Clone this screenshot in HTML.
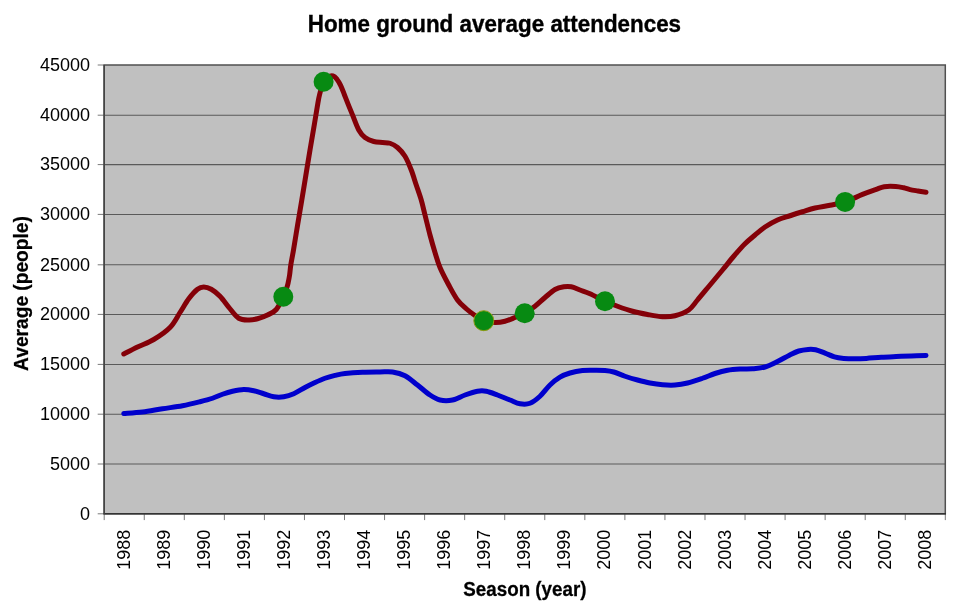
<!DOCTYPE html>
<html><head><meta charset="utf-8"><title>Home ground average attendences</title>
<style>
html,body{margin:0;padding:0;background:#fff;}
body{width:960px;height:609px;overflow:hidden;position:relative;font-family:"Liberation Sans",sans-serif;}
svg{position:absolute;left:0;top:0;display:block}
svg text{font-family:"Liberation Sans",sans-serif;fill:#000}
.tick text{font-size:18px}
</style></head><body>
<svg width="960" height="609" viewBox="0 0 960 609">
<rect x="0" y="0" width="960" height="609" fill="#ffffff"/>
<rect x="104.2" y="65.0" width="841.10" height="448.80" fill="#c0c0c0"/>
<g stroke="#5a5a5a" stroke-width="1.05" fill="none"><line x1="104.20" y1="115.20" x2="945.30" y2="115.20"/><line x1="104.20" y1="164.60" x2="945.30" y2="164.60"/><line x1="104.20" y1="214.40" x2="945.30" y2="214.40"/><line x1="104.20" y1="264.80" x2="945.30" y2="264.80"/><line x1="104.20" y1="314.40" x2="945.30" y2="314.40"/><line x1="104.20" y1="364.40" x2="945.30" y2="364.40"/><line x1="104.20" y1="414.20" x2="945.30" y2="414.20"/><line x1="104.20" y1="464.00" x2="945.30" y2="464.00"/></g>
<g stroke="#7a7a7a" stroke-width="1" fill="none"><line x1="97.70" y1="65.00" x2="104.20" y2="65.00"/><line x1="97.70" y1="115.20" x2="104.20" y2="115.20"/><line x1="97.70" y1="164.60" x2="104.20" y2="164.60"/><line x1="97.70" y1="214.40" x2="104.20" y2="214.40"/><line x1="97.70" y1="264.80" x2="104.20" y2="264.80"/><line x1="97.70" y1="314.40" x2="104.20" y2="314.40"/><line x1="97.70" y1="364.40" x2="104.20" y2="364.40"/><line x1="97.70" y1="414.20" x2="104.20" y2="414.20"/><line x1="97.70" y1="464.00" x2="104.20" y2="464.00"/><line x1="97.70" y1="513.80" x2="104.20" y2="513.80"/><line x1="104.20" y1="513.80" x2="104.20" y2="520.10"/><line x1="144.25" y1="513.80" x2="144.25" y2="520.10"/><line x1="184.30" y1="513.80" x2="184.30" y2="520.10"/><line x1="224.36" y1="513.80" x2="224.36" y2="520.10"/><line x1="264.41" y1="513.80" x2="264.41" y2="520.10"/><line x1="304.46" y1="513.80" x2="304.46" y2="520.10"/><line x1="344.51" y1="513.80" x2="344.51" y2="520.10"/><line x1="384.57" y1="513.80" x2="384.57" y2="520.10"/><line x1="424.62" y1="513.80" x2="424.62" y2="520.10"/><line x1="464.67" y1="513.80" x2="464.67" y2="520.10"/><line x1="504.72" y1="513.80" x2="504.72" y2="520.10"/><line x1="544.78" y1="513.80" x2="544.78" y2="520.10"/><line x1="584.83" y1="513.80" x2="584.83" y2="520.10"/><line x1="624.88" y1="513.80" x2="624.88" y2="520.10"/><line x1="664.93" y1="513.80" x2="664.93" y2="520.10"/><line x1="704.99" y1="513.80" x2="704.99" y2="520.10"/><line x1="745.04" y1="513.80" x2="745.04" y2="520.10"/><line x1="785.09" y1="513.80" x2="785.09" y2="520.10"/><line x1="825.14" y1="513.80" x2="825.14" y2="520.10"/><line x1="865.20" y1="513.80" x2="865.20" y2="520.10"/><line x1="905.25" y1="513.80" x2="905.25" y2="520.10"/><line x1="945.30" y1="513.80" x2="945.30" y2="520.10"/></g>
<rect x="104.2" y="65.0" width="841.10" height="448.80" fill="none" stroke="#505050" stroke-width="1.5"/>
<line x1="103.5" y1="513.8" x2="946.0" y2="513.8" stroke="#333" stroke-width="1.6"/>
<line x1="104.2" y1="65.0" x2="104.2" y2="513.8" stroke="#444" stroke-width="1.6"/>
<path d="M123.80 413.50C126.92 413.25 136.05 412.79 142.50 412.00C148.95 411.21 155.83 409.79 162.50 408.75C169.17 407.71 176.25 406.92 182.50 405.75C188.75 404.58 195.00 403.00 200.00 401.75C205.00 400.50 208.75 399.50 212.50 398.25C216.25 397.00 219.17 395.42 222.50 394.25C225.83 393.08 228.96 392.04 232.50 391.25C236.04 390.46 240.21 389.58 243.75 389.50C247.29 389.42 250.42 390.04 253.75 390.75C257.08 391.46 260.42 392.75 263.75 393.75C267.08 394.75 270.42 396.25 273.75 396.75C277.08 397.25 280.42 397.25 283.75 396.75C287.08 396.25 290.21 395.29 293.75 393.75C297.29 392.21 301.46 389.38 305.00 387.50C308.54 385.62 311.67 384.04 315.00 382.50C318.33 380.96 321.67 379.43 325.00 378.25C328.33 377.07 331.67 376.19 335.00 375.40C338.33 374.61 340.42 374.02 345.00 373.50C349.58 372.98 356.67 372.50 362.50 372.25C368.33 372.00 375.00 372.04 380.00 372.00C385.00 371.96 388.33 371.38 392.50 372.00C396.67 372.62 400.83 373.58 405.00 375.75C409.17 377.92 413.33 381.79 417.50 385.00C421.67 388.21 426.25 392.50 430.00 395.00C433.75 397.50 436.25 399.17 440.00 400.00C443.75 400.83 448.33 400.83 452.50 400.00C456.67 399.17 460.83 396.46 465.00 395.00C469.17 393.54 473.96 391.88 477.50 391.25C481.04 390.62 482.92 390.62 486.25 391.25C489.58 391.88 493.54 393.54 497.50 395.00C501.46 396.46 506.25 398.54 510.00 400.00C513.75 401.46 516.67 403.21 520.00 403.75C523.33 404.29 526.67 404.50 530.00 403.25C533.33 402.00 536.67 399.29 540.00 396.25C543.33 393.21 546.67 388.18 550.00 385.00C553.33 381.82 556.67 379.20 560.00 377.20C563.33 375.20 566.25 374.12 570.00 373.00C573.75 371.88 578.33 370.96 582.50 370.50C586.67 370.04 591.25 370.25 595.00 370.25C598.75 370.25 601.88 370.21 605.00 370.50C608.12 370.79 610.42 371.04 613.75 372.00C617.08 372.96 621.04 374.92 625.00 376.25C628.96 377.58 633.33 378.88 637.50 380.00C641.67 381.12 645.83 382.21 650.00 383.00C654.17 383.79 658.33 384.42 662.50 384.75C666.67 385.08 670.83 385.29 675.00 385.00C679.17 384.71 682.92 384.12 687.50 383.00C692.08 381.88 697.92 379.83 702.50 378.25C707.08 376.67 710.83 374.83 715.00 373.50C719.17 372.17 723.33 371.00 727.50 370.25C731.67 369.50 735.83 369.25 740.00 369.00C744.17 368.75 748.33 369.08 752.50 368.75C756.67 368.42 760.83 368.21 765.00 367.00C769.17 365.79 773.43 363.47 777.50 361.50C781.57 359.53 785.86 356.95 789.40 355.20C792.94 353.45 795.63 351.97 798.75 351.00C801.87 350.03 805.29 349.61 808.10 349.40C810.91 349.19 812.78 349.13 815.60 349.75C818.42 350.37 821.87 351.91 825.00 353.10C828.13 354.29 831.27 356.02 834.40 356.90C837.52 357.78 840.32 358.09 843.75 358.40C847.18 358.71 851.25 358.75 855.00 358.75C858.75 358.75 861.88 358.65 866.25 358.40C870.62 358.15 876.25 357.57 881.25 357.25C886.25 356.93 891.25 356.73 896.25 356.50C901.25 356.27 906.29 356.08 911.25 355.90C916.21 355.72 923.54 355.48 926.00 355.40" fill="none" stroke="#0000cc" stroke-width="5" stroke-linecap="round" stroke-linejoin="round"/>
<path d="M123.80 354.00C126.08 352.83 132.51 349.42 137.50 347.00C142.49 344.58 148.33 342.75 153.75 339.50C159.17 336.25 165.62 332.00 170.00 327.50C174.38 323.00 176.88 317.29 180.00 312.50C183.12 307.71 185.83 302.62 188.75 298.75C191.67 294.88 195.00 291.21 197.50 289.25C200.00 287.29 201.46 287.00 203.75 287.00C206.04 287.00 208.54 287.71 211.25 289.25C213.96 290.79 216.88 293.00 220.00 296.25C223.12 299.50 226.88 305.08 230.00 308.75C233.12 312.42 235.62 316.38 238.75 318.25C241.88 320.12 245.62 319.92 248.75 320.00C251.88 320.08 254.38 319.58 257.50 318.75C260.62 317.92 264.38 316.54 267.50 315.00C270.62 313.46 273.62 312.53 276.25 309.50C278.88 306.47 281.49 300.60 283.30 296.80C285.11 293.00 286.27 289.17 287.10 286.70C287.93 284.23 287.88 283.95 288.30 282.00C288.72 280.05 289.18 277.83 289.60 275.00C290.02 272.17 290.15 269.17 290.80 265.00C291.45 260.83 292.37 256.67 293.50 250.00C294.63 243.33 296.22 233.33 297.60 225.00C298.98 216.67 300.42 208.33 301.80 200.00C303.18 191.67 304.53 183.33 305.90 175.00C307.27 166.67 308.65 158.08 310.00 150.00C311.35 141.92 312.77 133.83 314.00 126.50C315.23 119.17 316.47 111.33 317.40 106.00C318.33 100.67 318.57 98.50 319.60 94.50C320.63 90.50 322.20 84.92 323.60 82.00C325.00 79.08 326.42 78.02 328.00 77.00C329.58 75.98 331.62 75.53 333.10 75.90C334.58 76.27 335.65 77.63 336.90 79.20C338.15 80.77 339.35 82.72 340.60 85.30C341.85 87.88 343.15 91.57 344.40 94.70C345.65 97.83 346.78 100.82 348.10 104.10C349.42 107.38 350.53 110.08 352.30 114.40C354.07 118.72 356.63 126.15 358.75 130.00C360.87 133.85 362.50 135.58 365.00 137.50C367.50 139.42 370.83 140.67 373.75 141.50C376.67 142.33 379.79 142.21 382.50 142.50C385.21 142.79 387.50 142.42 390.00 143.25C392.50 144.08 395.00 145.33 397.50 147.50C400.00 149.67 402.71 152.50 405.00 156.25C407.29 160.00 409.38 165.21 411.25 170.00C413.12 174.79 414.58 180.00 416.25 185.00C417.92 190.00 419.79 195.00 421.25 200.00C422.71 205.00 423.54 209.17 425.00 215.00C426.46 220.83 428.33 228.75 430.00 235.00C431.67 241.25 433.33 247.08 435.00 252.50C436.67 257.92 437.71 262.08 440.00 267.50C442.29 272.92 445.83 279.58 448.75 285.00C451.67 290.42 454.58 296.04 457.50 300.00C460.42 303.96 463.33 306.17 466.25 308.75C469.17 311.33 472.08 313.50 475.00 315.50C477.92 317.50 480.42 319.58 483.75 320.75C487.08 321.92 491.46 322.42 495.00 322.50C498.54 322.58 501.67 322.08 505.00 321.25C508.33 320.42 511.75 318.83 515.00 317.50C518.25 316.17 521.17 315.12 524.50 313.25C527.83 311.38 531.58 308.88 535.00 306.25C538.42 303.62 541.67 300.29 545.00 297.50C548.33 294.71 551.88 291.29 555.00 289.50C558.12 287.71 561.04 287.21 563.75 286.75C566.46 286.29 568.54 286.21 571.25 286.75C573.96 287.29 576.88 288.83 580.00 290.00C583.12 291.17 585.83 291.88 590.00 293.75C594.17 295.62 600.42 299.17 605.00 301.25C609.58 303.33 612.92 304.58 617.50 306.25C622.08 307.92 627.50 309.88 632.50 311.25C637.50 312.62 642.50 313.58 647.50 314.50C652.50 315.42 657.92 316.54 662.50 316.75C667.08 316.96 670.62 316.88 675.00 315.75C679.38 314.62 685.00 312.62 688.75 310.00C692.50 307.38 693.96 304.17 697.50 300.00C701.04 295.83 705.83 290.00 710.00 285.00C714.17 280.00 718.54 274.79 722.50 270.00C726.46 265.21 730.00 260.62 733.75 256.25C737.50 251.88 741.46 247.29 745.00 243.75C748.54 240.21 751.67 237.79 755.00 235.00C758.33 232.21 761.25 229.50 765.00 227.00C768.75 224.50 773.33 221.88 777.50 220.00C781.67 218.12 785.83 217.12 790.00 215.75C794.17 214.38 798.33 213.04 802.50 211.75C806.67 210.46 810.42 209.08 815.00 208.00C819.58 206.92 824.98 206.27 830.00 205.25C835.02 204.23 839.68 203.71 845.10 201.90C850.52 200.09 857.42 196.45 862.50 194.40C867.58 192.35 871.98 190.88 875.60 189.60C879.22 188.32 880.83 187.22 884.20 186.70C887.57 186.18 892.54 186.32 895.80 186.50C899.06 186.68 901.38 187.28 903.75 187.80C906.12 188.32 907.62 189.07 910.00 189.60C912.38 190.13 915.33 190.55 918.00 191.00C920.67 191.45 924.67 192.08 926.00 192.30" fill="none" stroke="#840008" stroke-width="5" stroke-linecap="round" stroke-linejoin="round"/>
<g fill="#078a12"><circle cx="283.30" cy="296.80" r="10"/><circle cx="323.60" cy="81.80" r="10"/><circle cx="483.80" cy="320.70" r="10" stroke="#8a9a10" stroke-width="1"/><circle cx="524.70" cy="313.30" r="10"/><circle cx="605.00" cy="301.25" r="10"/><circle cx="845.10" cy="201.90" r="10"/></g>
<g class="tick"><text x="90" y="70.70" text-anchor="end">45000</text><text x="90" y="120.90" text-anchor="end">40000</text><text x="90" y="170.30" text-anchor="end">35000</text><text x="90" y="220.10" text-anchor="end">30000</text><text x="90" y="270.50" text-anchor="end">25000</text><text x="90" y="320.10" text-anchor="end">20000</text><text x="90" y="370.10" text-anchor="end">15000</text><text x="90" y="419.90" text-anchor="end">10000</text><text x="90" y="469.70" text-anchor="end">5000</text><text x="90" y="519.50" text-anchor="end">0</text><text transform="translate(129.83 569.8) rotate(-90)" font-size="18.3">1988</text><text transform="translate(169.88 569.8) rotate(-90)" font-size="18.3">1989</text><text transform="translate(209.93 569.8) rotate(-90)" font-size="18.3">1990</text><text transform="translate(249.98 569.8) rotate(-90)" font-size="18.3">1991</text><text transform="translate(290.04 569.8) rotate(-90)" font-size="18.3">1992</text><text transform="translate(330.09 569.8) rotate(-90)" font-size="18.3">1993</text><text transform="translate(370.14 569.8) rotate(-90)" font-size="18.3">1994</text><text transform="translate(410.19 569.8) rotate(-90)" font-size="18.3">1995</text><text transform="translate(450.25 569.8) rotate(-90)" font-size="18.3">1996</text><text transform="translate(490.30 569.8) rotate(-90)" font-size="18.3">1997</text><text transform="translate(530.35 569.8) rotate(-90)" font-size="18.3">1998</text><text transform="translate(570.40 569.8) rotate(-90)" font-size="18.3">1999</text><text transform="translate(610.45 569.8) rotate(-90)" font-size="18.3">2000</text><text transform="translate(650.51 569.8) rotate(-90)" font-size="18.3">2001</text><text transform="translate(690.56 569.8) rotate(-90)" font-size="18.3">2002</text><text transform="translate(730.61 569.8) rotate(-90)" font-size="18.3">2003</text><text transform="translate(770.66 569.8) rotate(-90)" font-size="18.3">2004</text><text transform="translate(810.72 569.8) rotate(-90)" font-size="18.3">2005</text><text transform="translate(850.77 569.8) rotate(-90)" font-size="18.3">2006</text><text transform="translate(890.82 569.8) rotate(-90)" font-size="18.3">2007</text><text transform="translate(930.87 569.8) rotate(-90)" font-size="18.3">2008</text></g>
<text transform="translate(494.4 31.6) scale(1 1.07)" stroke="#000" stroke-width="0.35" text-anchor="middle" font-size="22.4" font-weight="bold">Home ground average attendences</text>
<text transform="translate(524.9 595.9) scale(1 1.05)" stroke="#000" stroke-width="0.25" text-anchor="middle" font-size="18.8" font-weight="bold">Season (year)</text>
<text transform="translate(27.9 293.5) rotate(-90) scale(1.02 1.05)" stroke="#000" stroke-width="0.25" text-anchor="middle" font-size="18.8" font-weight="bold">Average (people)</text>
</svg>
</body></html>
